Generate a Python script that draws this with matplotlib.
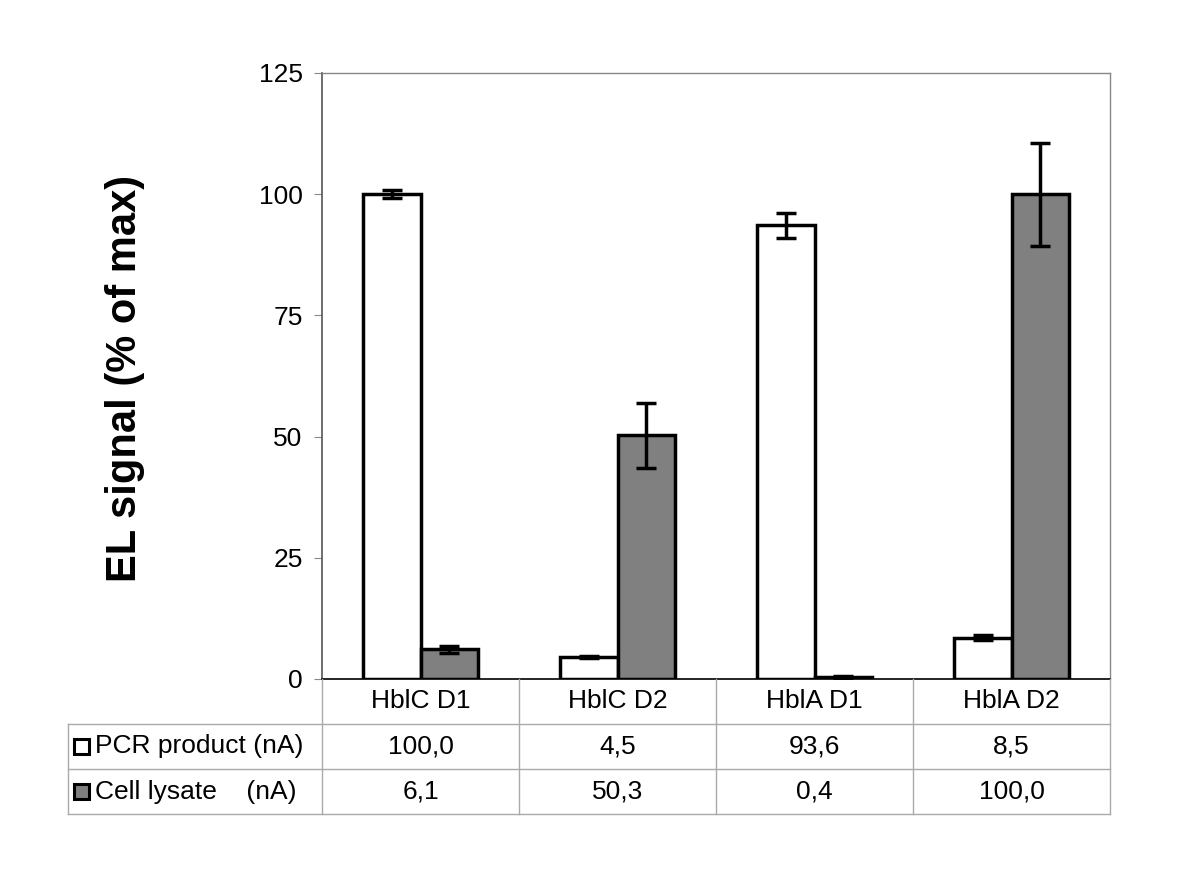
import matplotlib.pyplot as plt
import numpy as np

plt.rcParams['font.family'] = ['Liberation Sans', 'DejaVu Sans']

# data
categories = ['HblC D1', 'HblC D2', 'HblA D1', 'HblA D2']
pcr_values = [100.0, 4.5, 93.6, 8.5]
pcr_err = [0.8, 0.2, 2.6, 0.5]
lysate_values = [6.1, 50.3, 0.4, 100.0]
lysate_err = [0.7, 6.7, 0.3, 10.6]
series_names = ['PCR product (nA)', 'Cell lysate    (nA)']
yticks = [0, 25, 50, 75, 100, 125]

W, H = 1200, 889
fig = plt.figure(figsize=(12, 8.89), dpi=100)

# plot area in pixels
x0, x1 = 322, 1110
y_top, y_bot = 73, 679
ax = fig.add_axes([x0 / W, 1 - y_bot / H, (x1 - x0) / W, (y_bot - y_top) / H])

x = np.arange(len(categories))
w = 0.29
ax.bar(x - w / 2, pcr_values, w, color='white', edgecolor='black', linewidth=2.5,
       yerr=pcr_err, error_kw=dict(ecolor='black', elinewidth=2.5, capsize=7.5, capthick=2.5))
ax.bar(x + w / 2, lysate_values, w, color='#808080', edgecolor='black', linewidth=2.5,
       yerr=lysate_err, error_kw=dict(ecolor='black', elinewidth=2.5, capsize=7.5, capthick=2.5))

ax.set_xlim(-0.5, len(categories) - 0.5)
ax.set_ylim(0, 125)
ax.set_yticks(yticks)
ax.set_yticklabels([str(t) for t in yticks], fontsize=19)
ax.set_xticks([])
ax.tick_params(axis='y', direction='out', length=6, color='#888888', pad=8)
for s in ['top', 'right']:
    ax.spines[s].set_color('#888888')
    ax.spines[s].set_linewidth(1)
ax.spines['left'].set_color('#555555')
ax.spines['left'].set_linewidth(1.2)
ax.spines['bottom'].set_color('black')
ax.spines['bottom'].set_linewidth(1.2)

fig.text(125 / W, 1 - 378 / H, 'EL signal (% of max)', rotation=90, fontsize=30,
         fontweight='bold', ha='center', va='center')

# data table below the chart, drawn in pixel coordinates
tab = fig.add_axes([0, 0, 1, 1], facecolor='none')
tab.set_xlim(0, W)
tab.set_ylim(H, 0)
tab.axis('off')

grid_c = '#aaaaaa'
bounds = np.linspace(x0, x1, len(categories) + 1)
rows = [679, 724, 769, 814]
left = 68
for b in bounds:
    tab.plot([b, b], [rows[0], rows[-1]], color=grid_c, lw=1)
tab.plot([left, left], [rows[1], rows[-1]], color=grid_c, lw=1)
for r in rows[1:]:
    tab.plot([left, x1], [r, r], color=grid_c, lw=1)

centers = (bounds[:-1] + bounds[1:]) / 2
for cx, name in zip(centers, categories):
    tab.text(cx, (rows[0] + rows[1]) / 2, name, fontsize=19, ha='center', va='center')

row_vals = [pcr_values, lysate_values]
fills = ['white', '#808080']
for i, (name, vals, fc) in enumerate(zip(series_names, row_vals, fills)):
    yc = (rows[i + 1] + rows[i + 2]) / 2
    tab.add_patch(plt.Rectangle((74, yc - 8), 15, 15, facecolor=fc, edgecolor='black', lw=2.2))
    tab.text(95, yc, name, fontsize=19, ha='left', va='center')
    for cx, v in zip(centers, vals):
        tab.text(cx, yc, f'{v:.1f}'.replace('.', ','), fontsize=19, ha='center', va='center')

fig.savefig('out.png', dpi=100)
